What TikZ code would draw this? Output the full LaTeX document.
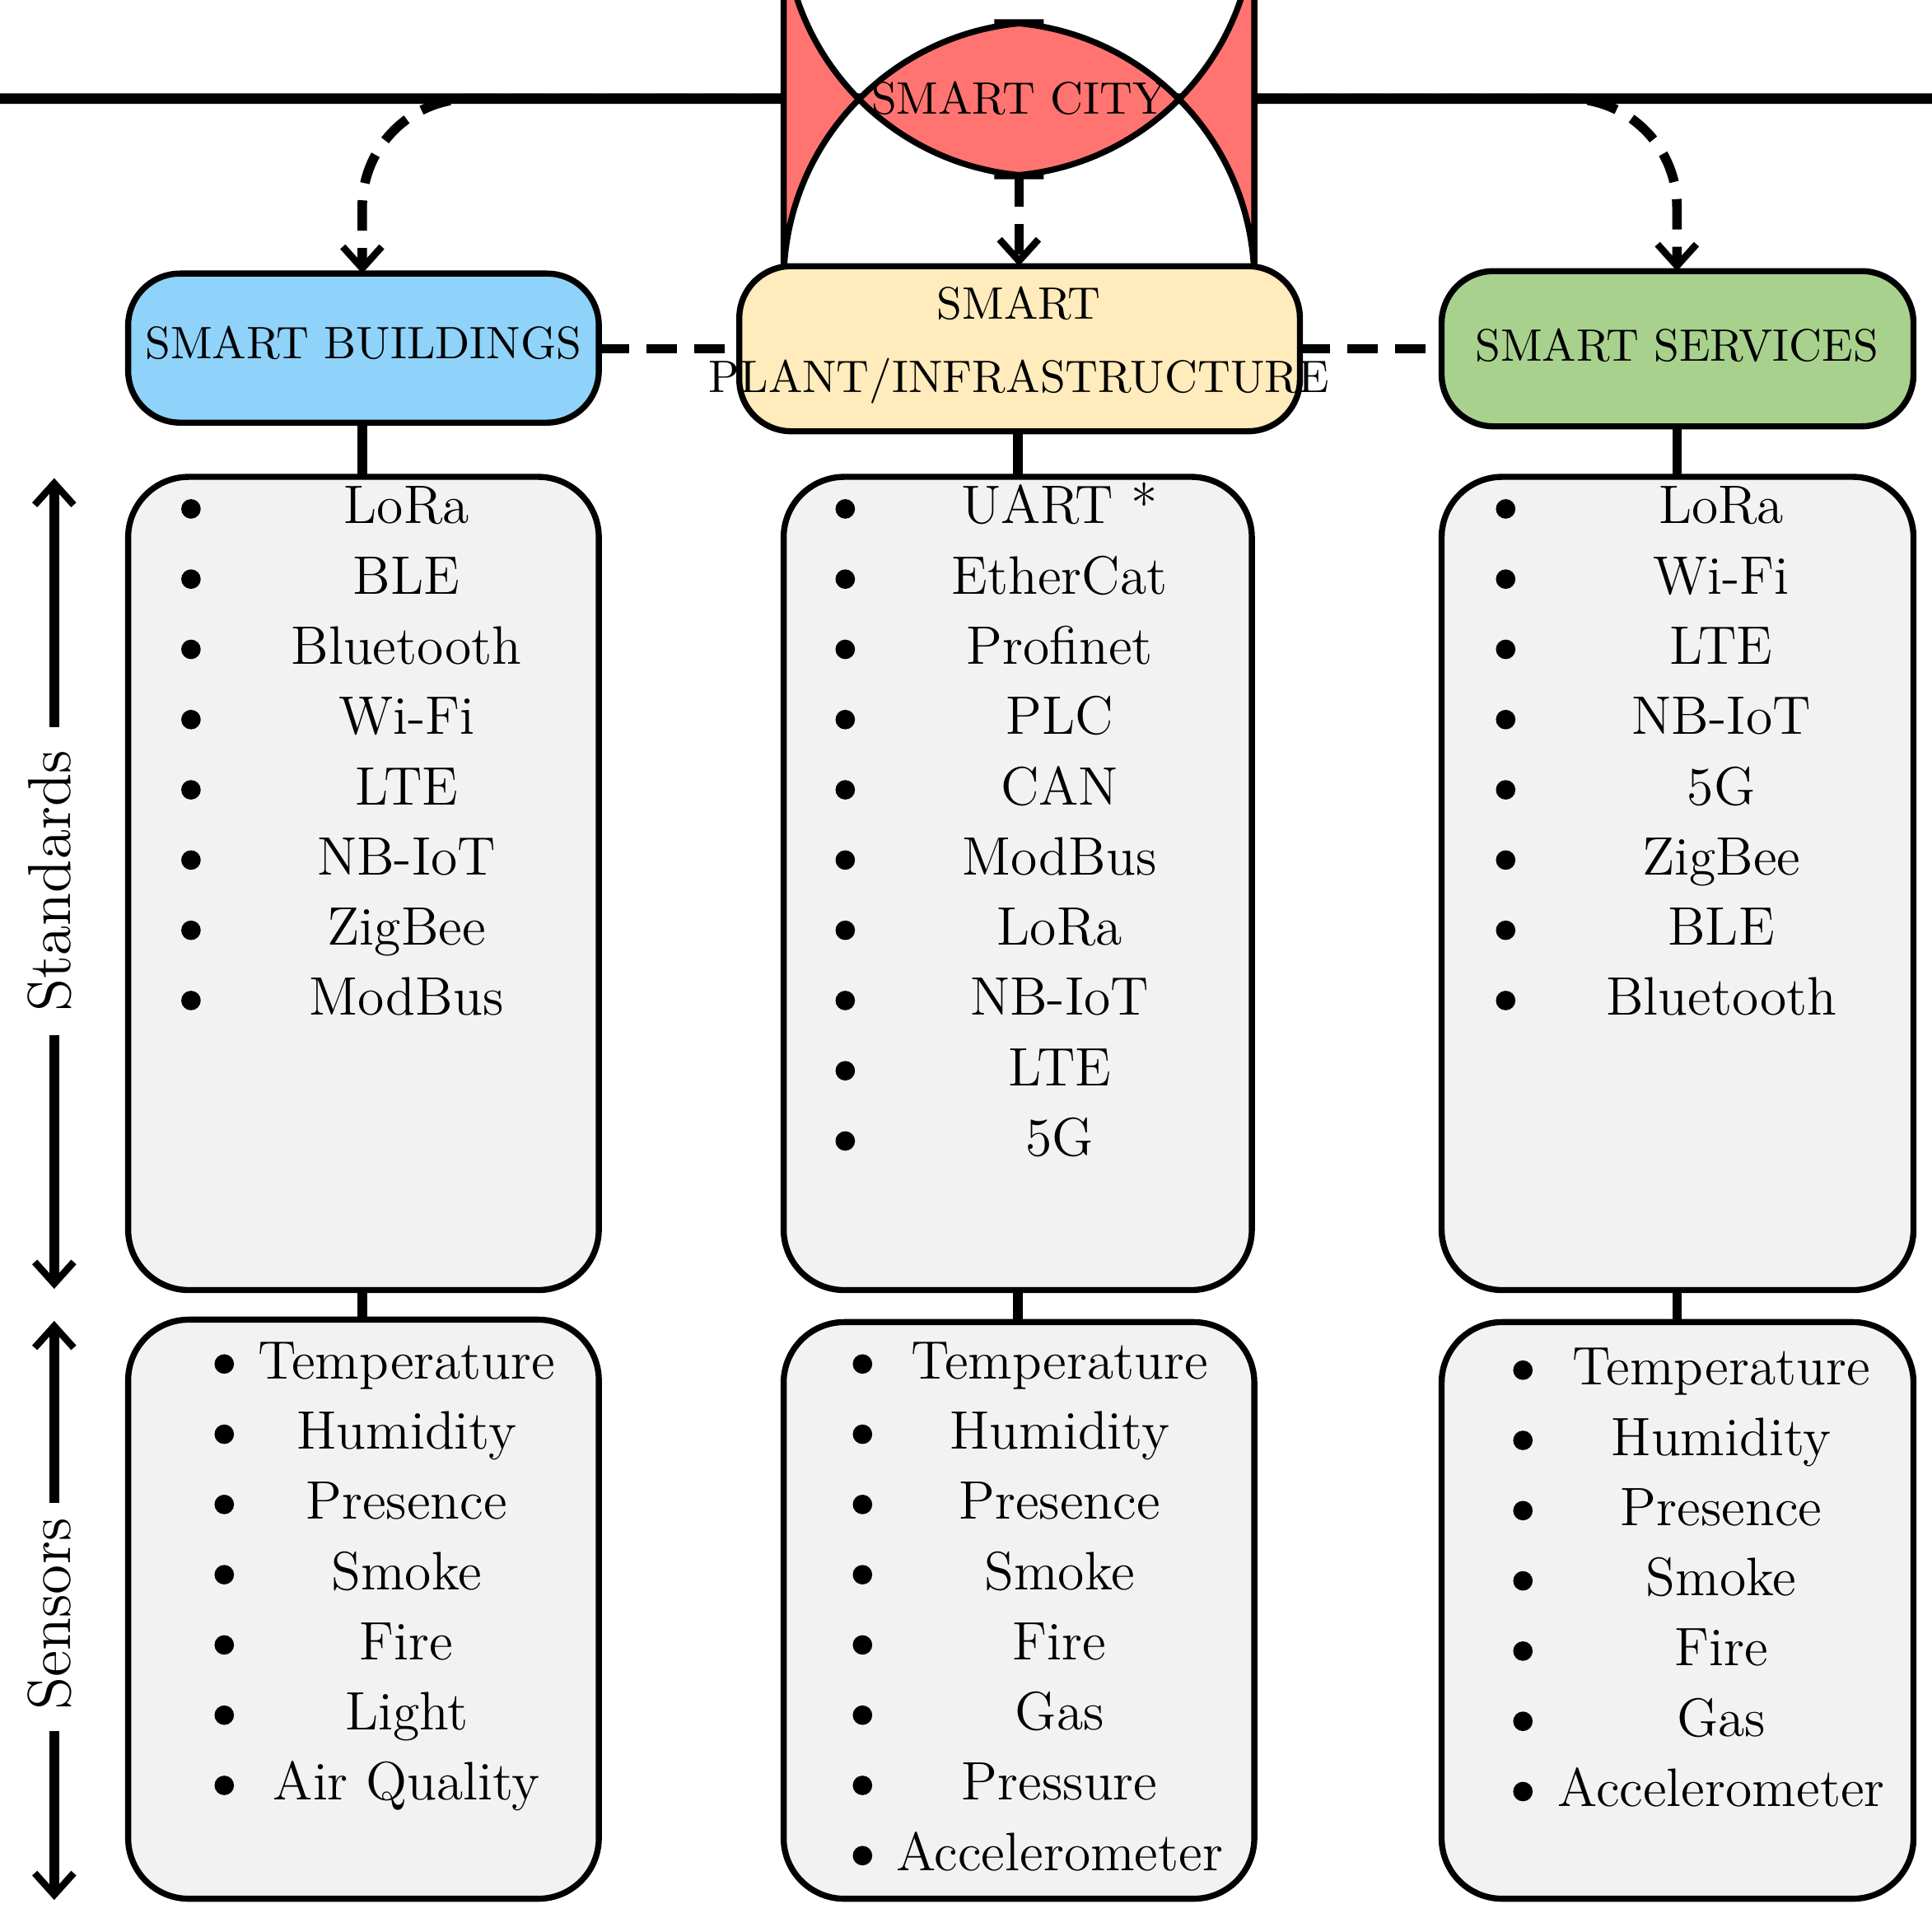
\documentclass[tikz,border=0pt]{standalone}
\usepackage{mathpazo}
\usetikzlibrary{arrows.meta}
\definecolor{cityc}{HTML}{FF7470}
\definecolor{bldc}{HTML}{8FD3FA}
\definecolor{plc}{HTML}{FFEBBB}
\definecolor{svc}{HTML}{A9D18E}
\definecolor{boxc}{HTML}{F2F2F2}
\begin{document}
\begin{tikzpicture}[x=0.01cm,y=-0.01cm,
  hdr/.style={draw,line width=1.4pt,rounded corners=12pt,font=\bfseries\fontsize{10.5}{14}\selectfont,align=center},
  lst/.style={draw,line width=1.4pt,rounded corners=14pt,fill=boxc},
  it/.style={font=\bfseries\fontsize{12.5}{15}\selectfont,anchor=base},
  bul/.style={circle,fill,inner sep=0pt,minimum size=4.5pt},
  dsh/.style={line width=2.2pt,dash pattern=on 7pt off 4pt},
  sol/.style={line width=2.2pt},
  arr/.style={-{Straight Barb[length=5pt,width=9pt,line width=1.6pt]}}]
\useasboundingbox (0,0) rectangle (1568,1568);
% headers
\node[hdr,fill=cityc,rounded corners=30pt,minimum width=382\pgflinewidth,inner sep=0pt] (city) at (827,80) {};
\path[draw,line width=1.4pt,fill=cityc,rounded corners=60] (636,18) rectangle (1018,143);
\node[font=\bfseries\fontsize{10.5}{14}\selectfont] (citytxt) at (827,80) {SMART CITY};
\coordinate (cityL) at (636,80); \coordinate (cityR) at (1018,80); \coordinate (cityB) at (827,143);
\path[hdr,fill=bldc] (104,222) rectangle (486,343);
\node[font=\bfseries\fontsize{10.5}{14}\selectfont] (bld) at (295,278) {SMART BUILDINGS};
\path[hdr,fill=plc] (600,216) rectangle (1055,350);
\node[font=\bfseries\fontsize{10.5}{14}\selectfont,align=center] (pl) at (827,280) {SMART\\[3pt]PLANT/INFRASTRUCTURE};
\path[hdr,fill=svc] (1170,220) rectangle (1553,346);
\node[font=\bfseries\fontsize{10.5}{14}\selectfont] (sv) at (1361,280) {SMART SERVICES};
\coordinate (bT) at (294,222); \coordinate (pT) at (827,216); \coordinate (sT) at (1361,220);
% dashed connectors
\draw[dsh,arr,rounded corners=25] (cityL) -- (294,80) -- (bT);
\draw[dsh,arr,rounded corners=25] (cityR) -- (1361,80) -- (sT);
\draw[dsh,arr] (cityB) -- (pT);
\draw[dsh] (486,283) -- (600,283);
\draw[dsh] (1055,283) -- (1170,283);
% boxes
\path[lst] (104,387) rectangle (486,1047);
\path[lst] (636,387) rectangle (1016,1047);
\path[lst] (1170,387) rectangle (1553,1047);
\path[lst] (104,1071) rectangle (486,1541);
\path[lst] (636,1073) rectangle (1018,1541);
\path[lst] (1170,1073) rectangle (1553,1541);
\draw[sol] (294,343) -- (294,387); \draw[sol] (826,350) -- (826,387); \draw[sol] (1361,346) -- (1361,387);
\draw[sol] (294,1047) -- (294,1071); \draw[sol] (826,1047) -- (826,1073); \draw[sol] (1361,1047) -- (1361,1073);
% side arrows
\node[rotate=90,font=\fontsize{14}{16}\selectfont] (std) at (40,715) {Standards};
\node[rotate=90,font=\fontsize{14}{16}\selectfont] (sen) at (40,1310) {Sensors};
\draw[sol,arr] (44,590) -- (44,388);
\draw[sol,arr] (44,840) -- (44,1046);
\draw[sol,arr] (44,1220) -- (44,1072);
\draw[sol,arr] (44,1405) -- (44,1542);
% lists
\def\lst#1#2#3#4{\foreach \t [count=\i from 0] in {#4} {\node[bul] at (#1,#3+57*\i) {}; \node[it] at (#2,#3+57*\i+12) {\t};}}
\lst{155}{330}{413}{LoRa,BLE,Bluetooth,Wi-Fi,LTE,NB-IoT,ZigBee,ModBus}
\lst{686}{860}{413}{UART *,EtherCat,Profinet,PLC,CAN,ModBus,LoRa,NB-IoT,LTE,5G}
\lst{1222}{1397}{413}{LoRa,Wi-Fi,LTE,NB-IoT,5G,ZigBee,BLE,Bluetooth}
\lst{182}{330}{1107}{Temperature,Humidity,Presence,Smoke,Fire,Light,Air Quality}
\lst{700}{860}{1107}{Temperature,Humidity,Presence,Smoke,Fire,Gas,Pressure,Accelerometer}
\lst{1236}{1397}{1112}{Temperature,Humidity,Presence,Smoke,Fire,Gas,Accelerometer}
\end{tikzpicture}
\end{document}
